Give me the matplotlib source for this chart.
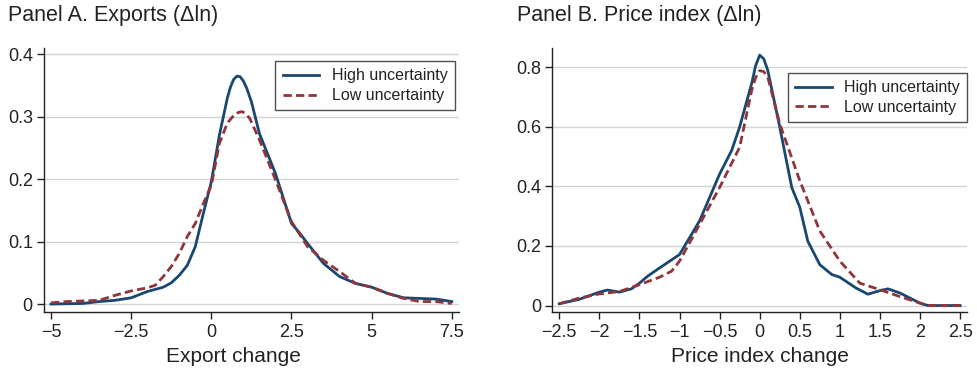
import matplotlib
matplotlib.use("Agg")
import matplotlib.pyplot as plt

plt.rcParams['font.family'] = ['Liberation Sans', 'DejaVu Sans']

# Panel A data
a_x_high = [-5, -4, -3.5, -3, -2.5, -2, -1.5, -1.25, -1, -0.75, -0.5, -0.25, 0, 0.25, 0.5, 0.6, 0.7, 0.8, 0.9, 1.0, 1.1, 1.25, 1.5, 2.0, 2.5, 2.75, 3.0, 3.5, 4, 4.5, 5, 5.5, 6, 6.5, 7, 7.5]
a_y_high = [0.0, 0.001, 0.004, 0.006, 0.010, 0.020, 0.027, 0.034, 0.046, 0.062, 0.092, 0.145, 0.196, 0.270, 0.330, 0.348, 0.360, 0.365, 0.364, 0.357, 0.346, 0.324, 0.273, 0.209, 0.129, 0.114, 0.097, 0.065, 0.044, 0.033, 0.027, 0.017, 0.010, 0.009, 0.008, 0.004]
a_x_low = [-5, -4.5, -4, -3.5, -3, -2.5, -2, -1.75, -1.5, -1.25, -1, -0.75, -0.5, -0.25, 0, 0.25, 0.5, 0.7, 0.85, 0.95, 1.05, 1.2, 1.5, 2.0, 2.5, 3, 3.5, 4, 4.5, 5, 5.5, 6, 6.5, 7, 7.5]
a_y_low = [0.002, 0.004, 0.005, 0.006, 0.014, 0.021, 0.026, 0.030, 0.044, 0.060, 0.081, 0.108, 0.129, 0.161, 0.190, 0.257, 0.290, 0.302, 0.307, 0.308, 0.306, 0.297, 0.263, 0.199, 0.132, 0.092, 0.070, 0.052, 0.033, 0.027, 0.017, 0.009, 0.004, 0.004, 0.001]

# Panel B data
b_x_high = [-2.5, -2.25, -2.0, -1.9, -1.75, -1.6, -1.5, -1.4, -1.25, -1.0, -0.75, -0.5, -0.35, -0.25, -0.1, -0.05, 0, 0.05, 0.1, 0.25, 0.4, 0.5, 0.6, 0.75, 0.9, 1.0, 1.2, 1.35, 1.5, 1.6, 1.75, 2.0, 2.1, 2.5]
b_y_high = [0.006, 0.021, 0.045, 0.052, 0.045, 0.056, 0.075, 0.098, 0.126, 0.171, 0.284, 0.441, 0.520, 0.599, 0.745, 0.805, 0.840, 0.828, 0.790, 0.599, 0.396, 0.330, 0.216, 0.137, 0.104, 0.095, 0.059, 0.038, 0.050, 0.056, 0.042, 0.008, 0.0, 0.0]
b_x_low = [-2.5, -2.25, -2.0, -1.75, -1.5, -1.25, -1.1, -1.0, -0.75, -0.5, -0.25, -0.1, -0.05, 0, 0.05, 0.1, 0.25, 0.5, 0.75, 1.0, 1.25, 1.5, 1.75, 2.0, 2.1, 2.5]
b_y_low = [0.006, 0.025, 0.039, 0.047, 0.070, 0.095, 0.115, 0.149, 0.272, 0.396, 0.531, 0.722, 0.765, 0.788, 0.785, 0.767, 0.610, 0.419, 0.250, 0.149, 0.075, 0.053, 0.030, 0.008, 0.0, 0.0]

a_xticks = [-5, -2.5, 0, 2.5, 5, 7.5]
a_xticklabels = ['\u22125', '\u22122.5', '0', '2.5', '5', '7.5']
a_yticks = [0, 0.1, 0.2, 0.3, 0.4]
a_yticklabels = ['0', '0.1', '0.2', '0.3', '0.4']
b_xticks = [-2.5, -2, -1.5, -1, -0.5, 0, 0.5, 1, 1.5, 2, 2.5]
b_xticklabels = ['\u22122.5', '\u22122', '\u22121.5', '\u22121', '\u22120.5', '0', '0.5', '1', '1.5', '2', '2.5']
b_yticks = [0, 0.2, 0.4, 0.6, 0.8]
b_yticklabels = ['0', '0.2', '0.4', '0.6', '0.8']

BLUE = '#1a476f'
RED = '#90353b'
TXT = '#222222'
DASH = (0, (3.0, 1.5))

fig = plt.figure(figsize=(9.77, 3.72), dpi=100)
axA = fig.add_axes([0.045, 0.162, 0.425, 0.709])
axB = fig.add_axes([0.5653, 0.162, 0.4248, 0.709])

def style(ax, xlim, ylim, xticks, xtl, yticks, ytl, xlabel, xlab_x):
    ax.set_xlim(*xlim)
    ax.set_ylim(*ylim)
    ax.set_xticks(xticks)
    ax.set_xticklabels(xtl)
    ax.set_yticks(yticks)
    ax.set_yticklabels(ytl)
    for s in ['top', 'right']:
        ax.spines[s].set_visible(False)
    for s in ['left', 'bottom']:
        ax.spines[s].set_color(TXT)
        ax.spines[s].set_linewidth(1.0)
    ax.tick_params(axis='both', direction='out', length=5, width=1.0, color=TXT,
                   labelsize=13, labelcolor=TXT)
    ax.tick_params(axis='x', pad=4)
    ax.tick_params(axis='y', pad=3)
    ax.grid(axis='y', color='#d4d4d4', linewidth=1.0)
    ax.set_axisbelow(True)
    ax.set_xlabel(xlabel, fontsize=15, color=TXT)
    ax.xaxis.set_label_coords(xlab_x, -0.132)

axA.plot(a_x_high, a_y_high, color=BLUE, lw=2.0, label='High uncertainty')
axA.plot(a_x_low, a_y_low, color=RED, lw=2.0, ls=DASH, label='Low uncertainty')
style(axA, (-5.22, 7.73), (-0.0123, 0.41), a_xticks, a_xticklabels, a_yticks, a_yticklabels,
      'Export change', 0.457)

axB.plot(b_x_high, b_y_high, color=BLUE, lw=2.0, label='High uncertainty')
axB.plot(b_x_low, b_y_low, color=RED, lw=2.0, ls=DASH, label='Low uncertainty')
style(axB, (-2.587, 2.59), (-0.0208, 0.864), b_xticks, b_xticklabels, b_yticks, b_yticklabels,
      'Price index change', 0.5)

for ax, anchor in [(axA, (0.99, 0.95)), (axB, (1.0, 0.905))]:
    leg = ax.legend(loc='upper right', bbox_to_anchor=anchor, fontsize=11.5, frameon=True,
                    fancybox=False, edgecolor=TXT, handlelength=2.3, borderpad=0.45,
                    labelspacing=0.3, handletextpad=0.8, borderaxespad=0.0)
    leg.get_frame().set_linewidth(1.0)
    for t in leg.get_texts():
        t.set_color(TXT)

fig.text(0.008, 0.958, 'Panel A. Exports (\u0394ln)', fontsize=15.5, color=TXT, va='center', ha='left')
fig.text(0.529, 0.958, 'Panel B. Price index (\u0394ln)', fontsize=15.5, color=TXT, va='center', ha='left')

fig.savefig('out.png', dpi=100)
